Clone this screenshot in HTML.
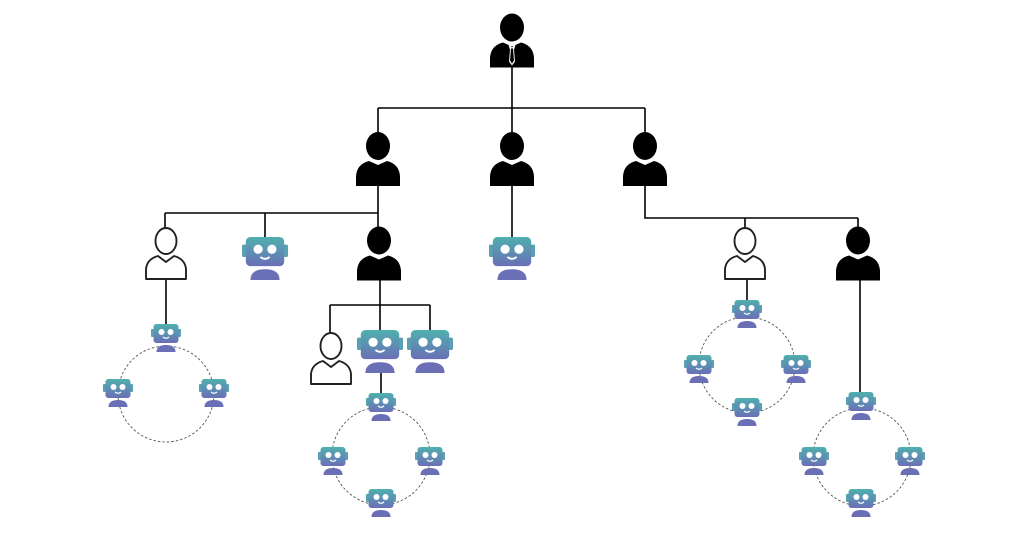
<!DOCTYPE html>
<html><head><style>html,body{margin:0;padding:0;background:#fff;}svg{display:block}</style></head>
<body>
<svg width="1024" height="533" viewBox="0 0 1024 533" xmlns="http://www.w3.org/2000/svg">
<defs>
<linearGradient id="g" x1="0" y1="0" x2="0" y2="1">
<stop offset="0" stop-color="#4fb0ae"/><stop offset="1" stop-color="#6a6fb6"/></linearGradient>
<symbol id="robot" viewBox="0 0 30 28">
<rect x="0" y="5" width="3" height="8" rx="1" fill="#5a9fb3"/>
<rect x="27" y="5" width="3" height="8" rx="1" fill="#5a9fb3"/>
<rect x="2.5" y="0" width="25" height="19" rx="3" fill="url(#g)"/>
<circle cx="10.5" cy="8" r="3" fill="#fff"/><circle cx="19.5" cy="8" r="3" fill="#fff"/>
<path d="M12 13 Q15 15.5 18 13" stroke="#fff" stroke-width="1.2" fill="none"/>
<path d="M5.5 28 Q5.5 21 15 21 Q24.5 21 24.5 28 Z" fill="#6a6fb6"/>
</symbol>
<symbol id="boss" viewBox="0 0 46 54">
<ellipse cx="23" cy="14" rx="12" ry="14" fill="#000"/>
<path d="M1 54 L1 44 Q2 32 14 29 L23 33 L32 29 Q44 32 45 44 L45 54 Z" fill="#000"/>
</symbol>
<symbol id="tie" viewBox="0 0 46 54">
<path d="M19 30 L23 34 L27 30 L25 36 L26 48 L23 52 L20 48 L21 36 Z" fill="#fff"/>
<path d="M22 35 L24 35 L25 47 L23 50 L21 47 Z" fill="#000"/>
</symbol>
<symbol id="white" viewBox="0 0 46 54">
<ellipse cx="23" cy="14" rx="10.5" ry="13" fill="#fff" stroke="#222" stroke-width="1.9"/>
<path d="M3 52 L3 42 Q4 32 15 29 L23 35 L31 29 Q42 32 43 42 L43 52 Z" fill="#fff" stroke="#222" stroke-width="1.9" stroke-linejoin="round"/>
</symbol>
</defs>
<g stroke="#000" stroke-width="1.6" fill="none">
<path d="M512 60 V108 M378 108 H645 M378 108 V135 M512 108 V135 M645 108 V135"/>
<path d="M378 180 V213 M165 213 H378 M165 213 V232 M265 213 V240 M378 213 V232"/>
<path d="M512 180 V240"/>
<path d="M645 180 V218 H858 M745 218 V232 M858 218 V232"/>
<path d="M166 278 V325"/>
<path d="M380 278 V305 M330 305 H430 M330 305 V335 M380 305 V335 M430 305 V335 M381 372 V395"/>
<path d="M747 278 V300"/>
<path d="M860 278 V394"/>
</g>
<g stroke="#555" stroke-width="0.9" stroke-dasharray="2.5,2" fill="none">
<circle cx="166" cy="394" r="48"/>
<circle cx="381" cy="456" r="49"/>
<circle cx="747" cy="365" r="48"/>
<circle cx="862" cy="457" r="49"/>
</g>
<use href="#boss" x="489" y="13" width="46" height="55"/><use href="#tie" x="489" y="13" width="46" height="55"/>
<use href="#boss" x="355" y="131" width="46" height="56"/>
<use href="#boss" x="489" y="131" width="46" height="56"/>
<use href="#boss" x="622" y="131" width="46" height="56"/>
<use href="#white" x="143" y="227" width="46" height="54"/>
<use href="#robot" x="241" y="237" width="48" height="43"/>
<use href="#boss" x="356" y="226" width="46" height="55"/>
<use href="#robot" x="488" y="237" width="48" height="43"/>
<use href="#white" x="722" y="227" width="46" height="54"/>
<use href="#boss" x="835" y="226" width="46" height="55"/>
<use href="#white" x="308" y="332" width="46" height="54"/>
<use href="#robot" x="356" y="330" width="48" height="43"/>
<use href="#robot" x="406" y="330" width="48" height="43"/>
<g>
<use href="#robot" x="151" y="324" width="30" height="28"/>
<use href="#robot" x="103" y="379" width="30" height="28"/>
<use href="#robot" x="199" y="379" width="30" height="28"/>
<use href="#robot" x="366" y="393" width="30" height="28"/>
<use href="#robot" x="318" y="447" width="30" height="28"/>
<use href="#robot" x="415" y="447" width="30" height="28"/>
<use href="#robot" x="366" y="489" width="30" height="28"/>
<use href="#robot" x="732" y="300" width="30" height="28"/>
<use href="#robot" x="684" y="355" width="30" height="28"/>
<use href="#robot" x="781" y="355" width="30" height="28"/>
<use href="#robot" x="732" y="398" width="30" height="28"/>
<use href="#robot" x="846" y="392" width="30" height="28"/>
<use href="#robot" x="799" y="447" width="30" height="28"/>
<use href="#robot" x="895" y="447" width="30" height="28"/>
<use href="#robot" x="846" y="489" width="30" height="28"/>
</g>
</svg>
</body></html>
